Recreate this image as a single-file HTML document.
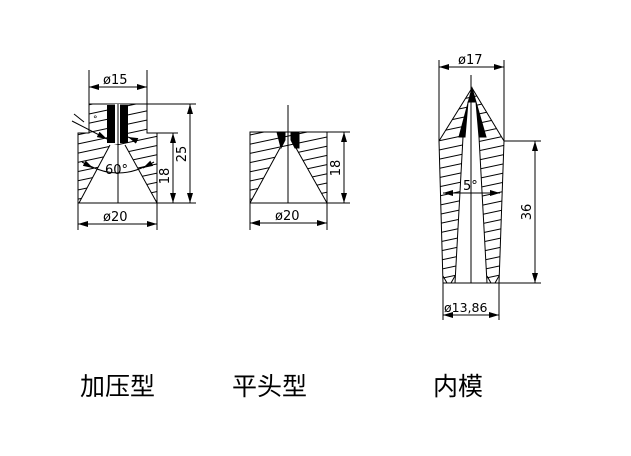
<!DOCTYPE html>
<html><head><meta charset="utf-8"><style>
html,body{margin:0;padding:0;background:#fff;width:631px;height:456px;overflow:hidden}
svg{display:block}
.t{font-family:"DejaVu Sans",sans-serif;font-size:13px;fill:#000}
.c{font-family:"Liberation Sans","Noto Sans CJK SC",sans-serif;font-size:25px;fill:#000}
</style></head><body>
<svg width="631" height="456" viewBox="0 0 631 456" xmlns="http://www.w3.org/2000/svg">
<defs>
<pattern id="h" patternUnits="userSpaceOnUse" width="60" height="9" patternTransform="rotate(-12)">
<line x1="0" y1="4" x2="60" y2="4" stroke="#000" stroke-width="1"/>
</pattern>
<marker id="a" viewBox="0 0 10 6" refX="10" refY="3" markerWidth="10" markerHeight="6" orient="auto-start-reverse" markerUnits="userSpaceOnUse">
<path d="M0,0 L10,3 L0,6 z" fill="#000"/></marker>
</defs>
<g stroke="#000" stroke-width="1" fill="none">
<!-- Drawing 1 -->
<path d="M89,104 H147 V133 H157 V203 H78 V133 H89 Z M110,145 L79,203 H157 L125,145 Z" fill="url(#h)" fill-rule="evenodd" stroke="none"/>
<path d="M89,104 H147 V133 H157 V203 H78 V133 H89 Z"/>
<path d="M110,145 L79,203 M125,145 L157,203"/>
<rect x="115" y="104" width="5" height="40" fill="#fff" stroke="none"/>
<rect x="107" y="105" width="8" height="38" fill="#000" stroke="none"/>
<rect x="120" y="105" width="8" height="38" fill="#000" stroke="none"/>
<line x1="118" y1="104" x2="118" y2="203"/>
<line x1="89" y1="70" x2="89" y2="104"/><line x1="147" y1="70" x2="147" y2="104"/>
<line x1="89" y1="87" x2="147" y2="87" marker-start="url(#a)" marker-end="url(#a)"/>
<line x1="78" y1="203" x2="78" y2="230"/><line x1="157" y1="203" x2="157" y2="230"/>
<line x1="78" y1="224" x2="157" y2="224" marker-start="url(#a)" marker-end="url(#a)"/>
<line x1="147" y1="104" x2="196" y2="104"/><line x1="157" y1="203" x2="196" y2="203"/>
<line x1="157" y1="133" x2="178" y2="133"/>
<line x1="190" y1="104" x2="190" y2="203" marker-start="url(#a)" marker-end="url(#a)"/>
<line x1="173" y1="133" x2="173" y2="203" marker-start="url(#a)" marker-end="url(#a)"/>
<path d="M90,166 Q118,180 146,166"/>
<line x1="82" y1="162" x2="93" y2="168" marker-end="url(#a)"/>
<line x1="154" y1="162" x2="143" y2="168" marker-end="url(#a)"/>
<path d="M72,121 L107,139" marker-end="url(#a)"/>
<path d="M74,114 L84,122"/>
<line x1="135" y1="140" x2="128" y2="137" marker-end="url(#a)"/>
<!-- Drawing 2 -->
<path d="M250,132 H327 V203 H250 Z M280,148 L250,203 H327 L296,148 Z" fill="url(#h)" fill-rule="evenodd" stroke="none"/>
<rect x="250" y="132" width="77" height="71"/>
<path d="M280,148 L250,203 M296,148 L327,203"/>
<path d="M277,132 H285 V140 L281,148 Z" fill="#000"/>
<path d="M291,132 H299 V148 L295,148 L291,140 Z" fill="#000"/>
<line x1="288" y1="105" x2="288" y2="203"/>
<line x1="250" y1="203" x2="250" y2="230"/><line x1="327" y1="203" x2="327" y2="230"/>
<line x1="250" y1="223" x2="327" y2="223" marker-start="url(#a)" marker-end="url(#a)"/>
<line x1="327" y1="132" x2="350" y2="132"/><line x1="327" y1="203" x2="350" y2="203"/>
<line x1="344" y1="132" x2="344" y2="203" marker-start="url(#a)" marker-end="url(#a)"/>
<!-- Drawing 3 -->
<path d="M472,88 L439,141 L443,283 H455 L463,137 L468,102 Z" fill="url(#h)" stroke="none"/>
<path d="M472,88 L504,141 L499,283 H487 L479,137 L476,102 Z" fill="url(#h)" stroke="none"/>
<path d="M472,88 L439,141 L443,283 H499 L504,141 Z"/>
<path d="M463,137 L455,283 M479,137 L487,283"/>
<path d="M443,276 L447,283 M455,276 L451,283 M487,276 L491,283 M499,276 L495,283"/>
<path d="M472,88 L459,137 L465,137 L468,102 L476,102 L479,137 L486,137 Z" fill="#000"/>
<line x1="471" y1="75" x2="471" y2="283"/>
<line x1="439" y1="60" x2="439" y2="141"/><line x1="504" y1="60" x2="504" y2="141"/>
<line x1="439" y1="67" x2="504" y2="67" marker-start="url(#a)" marker-end="url(#a)"/>
<line x1="443" y1="193" x2="500" y2="193" marker-start="url(#a)" marker-end="url(#a)"/>
<line x1="504" y1="141" x2="541" y2="141"/><line x1="499" y1="283" x2="541" y2="283"/>
<line x1="535" y1="141" x2="535" y2="283" marker-start="url(#a)" marker-end="url(#a)"/>
<line x1="443" y1="283" x2="443" y2="320"/><line x1="499" y1="283" x2="499" y2="320"/>
<line x1="443" y1="315" x2="499" y2="315" marker-start="url(#a)" marker-end="url(#a)"/>
</g>
<g class="t">
<text x="103" y="84">ø15</text>
<text x="103" y="221">ø20</text>
<text x="105" y="174">60°</text>
<text x="0" y="0" transform="translate(169,176) rotate(-90)" text-anchor="middle">18</text>
<text x="0" y="0" transform="translate(186,154) rotate(-90)" text-anchor="middle">25</text>
<text x="93" y="122" font-size="9">°</text>
<text x="275" y="220">ø20</text>
<text x="0" y="0" transform="translate(340,168) rotate(-90)" text-anchor="middle">18</text>
<text x="458" y="64">ø17</text>
<text x="463" y="190">5°</text>
<text x="0" y="0" transform="translate(531,212) rotate(-90)" text-anchor="middle">36</text>
<text x="444" y="312" font-size="12.5">ø13,86</text>
</g>
<g class="c">
<text x="80" y="395">加压型</text>
<text x="232" y="395">平头型</text>
<text x="433" y="395">内模</text>
</g>
</svg>
</body></html>
